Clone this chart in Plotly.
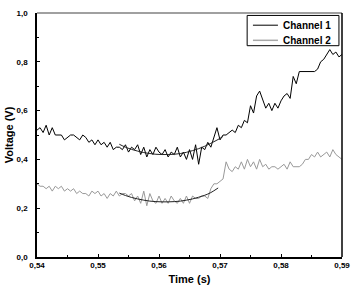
import plotly.graph_objects as go

t_start = 0.540
t_step = 0.0005
time = [round(t_start + i * t_step, 4) for i in range(101)]

channel1 = [0.52, 0.53, 0.51, 0.54, 0.50, 0.53, 0.50, 0.50, 0.50, 0.48,
            0.49, 0.50, 0.50, 0.49, 0.48, 0.50, 0.49, 0.47, 0.48, 0.46,
            0.48, 0.46, 0.47, 0.45, 0.47, 0.44, 0.45, 0.45, 0.44, 0.46,
            0.43, 0.45, 0.44, 0.46, 0.42, 0.45, 0.41, 0.44, 0.42, 0.45,
            0.43, 0.42, 0.44, 0.41, 0.43, 0.42, 0.45, 0.41, 0.43, 0.40,
            0.44, 0.40, 0.46, 0.38, 0.45, 0.44, 0.47, 0.45, 0.49, 0.53,
            0.48, 0.50, 0.50, 0.51, 0.52, 0.51, 0.54, 0.53, 0.56, 0.55,
            0.62, 0.59, 0.66, 0.68, 0.64, 0.61, 0.63, 0.60, 0.63, 0.61,
            0.64, 0.66, 0.67, 0.65, 0.74, 0.71, 0.76, 0.76, 0.76, 0.76,
            0.76, 0.76, 0.77, 0.80, 0.81, 0.83, 0.85, 0.83, 0.84, 0.82, 0.83]

channel2 = [0.30, 0.29, 0.29, 0.28, 0.29, 0.27, 0.29, 0.28, 0.29, 0.27,
            0.28, 0.27, 0.28, 0.26, 0.27, 0.26, 0.26, 0.25, 0.27, 0.26,
            0.27, 0.25, 0.26, 0.24, 0.26, 0.25, 0.27, 0.25, 0.26, 0.26,
            0.25, 0.26, 0.23, 0.25, 0.22, 0.27, 0.21, 0.26, 0.23, 0.22,
            0.25, 0.22, 0.24, 0.22, 0.25, 0.23, 0.22, 0.24, 0.22, 0.25,
            0.22, 0.25, 0.24, 0.24, 0.25, 0.25, 0.24, 0.28, 0.30, 0.30,
            0.31, 0.32, 0.39, 0.36, 0.35, 0.37, 0.36, 0.39, 0.36, 0.40,
            0.37, 0.39, 0.36, 0.40, 0.37, 0.38, 0.36, 0.37, 0.37, 0.36,
            0.37, 0.38, 0.36, 0.39, 0.37, 0.37, 0.37, 0.38, 0.40, 0.40,
            0.42, 0.41, 0.43, 0.41, 0.42, 0.43, 0.41, 0.44, 0.42, 0.41, 0.40]

fit1_time = [0.5535, 0.5545, 0.5555, 0.5565, 0.5575, 0.5585, 0.5595, 0.5605, 0.5615,
             0.5625, 0.5635, 0.5645, 0.5655, 0.5665, 0.5675, 0.5685, 0.5695, 0.5705]
fit1 = [0.462, 0.450, 0.441, 0.434, 0.428, 0.424, 0.421, 0.420, 0.420,
        0.421, 0.424, 0.429, 0.436, 0.444, 0.454, 0.466, 0.479, 0.494]

fit2_time = [0.5535, 0.5545, 0.5555, 0.5565, 0.5575, 0.5585, 0.5595, 0.5605, 0.5615,
             0.5625, 0.5635, 0.5645, 0.5655, 0.5665, 0.5675, 0.5685, 0.5697]
fit2 = [0.262, 0.252, 0.244, 0.238, 0.233, 0.229, 0.227, 0.226, 0.226,
        0.227, 0.229, 0.233, 0.238, 0.245, 0.253, 0.264, 0.283]

x_ticks = [0.54, 0.55, 0.56, 0.57, 0.58, 0.59]
y_ticks = [0.0, 0.2, 0.4, 0.6, 0.8, 1.0]
legend_names = ["Channel 1", "Channel 2"]
legend_colors = ["black", "#a8a8a8"]

FONT = "Liberation Sans, Arial"

fig = go.Figure()
fig.add_trace(go.Scatter(x=time, y=channel1, mode="lines", name=legend_names[0],
                         line=dict(color=legend_colors[0], width=1), showlegend=False))
fig.add_trace(go.Scatter(x=time, y=channel2, mode="lines", name=legend_names[1],
                         line=dict(color="#999999", width=1), showlegend=False))
fig.add_trace(go.Scatter(x=fit1_time, y=fit1, mode="lines", showlegend=False,
                         line=dict(color="#222222", width=1, shape="spline")))
fig.add_trace(go.Scatter(x=fit2_time, y=fit2, mode="lines", showlegend=False,
                         line=dict(color="#222222", width=1, shape="spline")))

tickfont = dict(family=FONT, size=8, color="black", weight="bold")
titlefont = dict(family=FONT, size=11, color="black", weight="bold")

shapes = [
    dict(type="line", xref="paper", yref="paper", x0=0, x1=1, y0=1, y1=1,
         line=dict(color="#808080", width=1.5)),
    dict(type="line", xref="paper", yref="paper", x0=1, x1=1, y0=0, y1=1,
         line=dict(color="black", width=1.5)),
    dict(type="rect", xref="paper", yref="paper", x0=0.689, x1=0.990, y0=0.866, y1=0.990,
         line=dict(color="black", width=1), fillcolor="white"),
]
annotations = []
rows_y = [0.950, 0.888]
for name, color, yy in zip(legend_names, legend_colors, rows_y):
    shapes.append(dict(type="line", xref="paper", yref="paper", x0=0.708, x1=0.790,
                       y0=yy, y1=yy, line=dict(color=color, width=1.5 if color != "black" else 1)))
    annotations.append(dict(xref="paper", yref="paper", x=0.800, y=yy, xanchor="left",
                            yanchor="middle", text=name, showarrow=False,
                            font=dict(family=FONT, size=10, color="black", weight="bold")))

fig.update_layout(
    width=355, height=291,
    margin=dict(l=37, r=13, t=13, b=34),
    paper_bgcolor="white", plot_bgcolor="white",
    separators=", ",
    showlegend=False,
    xaxis=dict(range=[0.54, 0.59], tickvals=x_ticks, tickformat=".2f",
               ticks="inside", ticklen=3, tickwidth=1, tickcolor="black",
               minor=dict(dtick=0.005, ticks="inside", ticklen=2, tickcolor="black"),
               showline=True, linecolor="black", linewidth=1.5, mirror=False,
               showgrid=False, zeroline=False, tickfont=tickfont, automargin=False,
               title=dict(text="Time (s)", font=titlefont, standoff=6)),
    yaxis=dict(range=[0, 1.0], tickvals=y_ticks, tickformat=".1f",
               ticks="inside", ticklen=3, tickwidth=1, tickcolor="black",
               minor=dict(dtick=0.1, ticks="inside", ticklen=2, tickcolor="black"),
               showline=True, linecolor="black", linewidth=1.5, mirror=False,
               showgrid=False, zeroline=False, tickfont=tickfont, automargin=False,
               ticklabelstandoff=6,
               title=dict(text="Voltage (V)", font=titlefont, standoff=1)),
    shapes=shapes,
    annotations=annotations,
)

fig.write_html("out.html",
               config={"displayModeBar": False},
               post_script="document.body.style.margin='0';document.body.style.padding='0';"
                           "document.documentElement.style.overflow='hidden';")
